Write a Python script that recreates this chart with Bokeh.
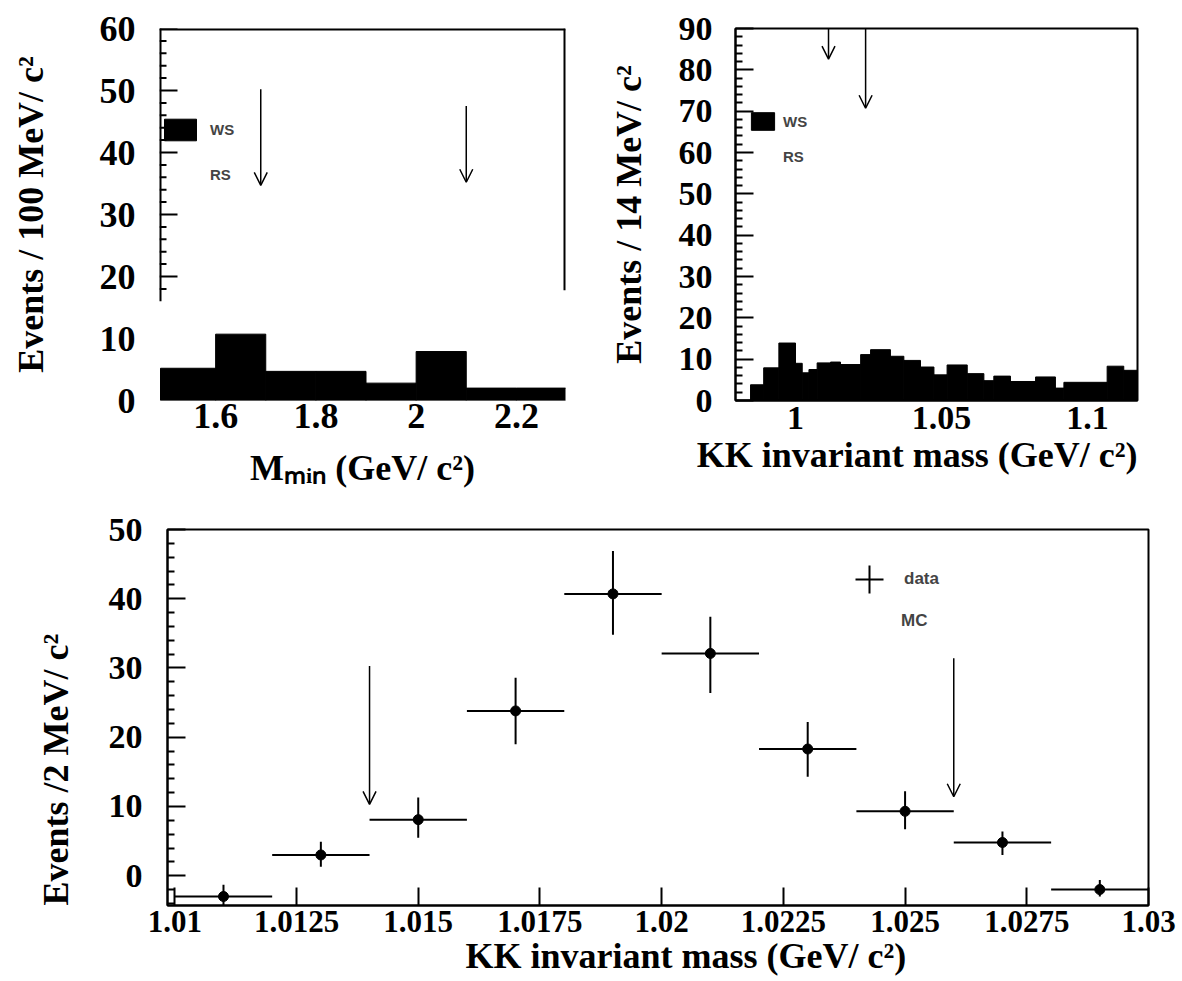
import math
from bokeh.plotting import figure
from bokeh.models import (Range1d, FixedTicker, Arrow, OpenHead, Title,
                          CustomJSTickFormatter, Legend, LegendItem)
from bokeh.layouts import column, row
from bokeh.embed import file_html
from bokeh.resources import INLINE

# ---------------- data ----------------
# top-left: M_min histogram (WS)
mmin_edges = [1.49, 1.6, 1.7, 1.8, 1.9, 2.0, 2.1, 2.2, 2.305]
mmin_ws = [5.2, 10.7, 4.7, 4.7, 2.8, 7.9, 2.0, 2.0]
mmin_ticks = [1.6, 1.8, 2.0, 2.2]
mmin_tick_labels = ["1.6", "1.8", "2", "2.2"]
mmin_yticks = [0, 10, 20, 30, 40, 50, 60]
mmin_cut_x = [1.69, 2.1]
mmin_cut_top = [50.2, 47.5]
mmin_cut_tip = [34.7, 35.2]

# top-right: KK invariant mass histogram (WS)
kk_edges = [0.9846, 0.9891, 0.9943, 1.0, 1.0023, 1.0046, 1.0074, 1.012, 1.0154,
            1.0223, 1.0257, 1.0325, 1.0371, 1.0428, 1.0474, 1.0519, 1.0588,
            1.0645, 1.0679, 1.0736, 1.0822, 1.089, 1.0919, 1.1067, 1.1124, 1.1176]
kk_ws = [3.8, 7.9, 13.9, 9.0, 6.7, 7.5, 9.1, 9.3, 8.7, 11.1, 12.3, 10.7, 9.7,
         8.1, 6.2, 8.6, 6.5, 4.8, 5.9, 4.6, 5.7, 3.0, 4.4, 8.3, 7.3]
kk_ticks = [1.0, 1.05, 1.1]
kk_tick_labels = ["1", "1.05", "1.1"]
kk_yticks = [0, 10, 20, 30, 40, 50, 60, 70, 80, 90]
kk_cut_x = [1.0113, 1.024]
kk_cut_top = [90.0, 90.0]
kk_cut_tip = [82.6, 70.7]

# bottom: KK invariant mass, data points with errors
fine_x = [1.011, 1.013, 1.015, 1.017, 1.019, 1.021, 1.023, 1.025, 1.027, 1.029]
fine_n = [-3.0, 3.0, 8.1, 23.8, 40.7, 32.1, 18.3, 9.3, 4.8, -2.0]
fine_err_up = [1.7, 1.9, 3.2, 4.8, 6.2, 5.3, 3.9, 2.9, 1.6, 1.4]
fine_err_dn = [1.6, 1.7, 2.6, 4.8, 5.9, 5.7, 4.0, 2.6, 1.8, 1.0]
fine_halfbin = 0.001
fine_ticks = [1.01, 1.0125, 1.015, 1.0175, 1.02, 1.0225, 1.025, 1.0275, 1.03]
fine_tick_labels = ["1.01", "1.0125", "1.015", "1.0175", "1.02", "1.0225",
                    "1.025", "1.0275", "1.03"]
fine_yticks = [0, 10, 20, 30, 40, 50]
fine_cut_x = [1.014, 1.026]
fine_cut_top = [30.3, 31.4]
fine_cut_tip = [10.3, 11.4]

SERIF = "Liberation Serif"
SANS = "Liberation Sans"


def fixed_labels(ticks, labels):
    return CustomJSTickFormatter(args=dict(tks=ticks, lbls=labels), code="""
        for (let i = 0; i < tks.length; i++) {
            if (Math.abs(tks[i] - tick) < 1e-7) { return lbls[i]; }
        }
        return "";
    """)


def make_fig(w, h, xr, yr, bl, br, bt, bb):
    p = figure(width=w, height=h, x_range=Range1d(*xr), y_range=Range1d(*yr),
               output_backend="svg", toolbar_location=None, title=None,
               min_border_left=bl, min_border_right=br,
               min_border_top=bt, min_border_bottom=bb)
    p.grid.visible = False
    p.background_fill_color = "white"
    p.border_fill_color = "white"
    p.outline_line_color = None
    for ax in (p.xaxis[0], p.yaxis[0]):
        ax.major_label_text_font = SERIF
        ax.major_label_text_font_style = "bold"
        ax.major_label_text_color = "black"
        ax.axis_label_text_font = SERIF
        ax.axis_label_text_font_style = "bold"
        ax.axis_label_text_font_size = "36px"
        ax.axis_label_text_color = "black"
        ax.axis_line_color = "black"
        ax.axis_line_width = 2
        ax.major_tick_line_color = "black"
        ax.minor_tick_line_color = "black"
        ax.major_tick_line_width = 2
        ax.minor_tick_line_width = 2
        ax.major_tick_out = 0
        ax.minor_tick_out = 0
    return p


def side_title(p, side, text, standoff, align="left", offset=0):
    p.add_layout(Title(text=text, align=align, offset=offset, standoff=standoff,
                       vertical_align="bottom", text_font=SERIF,
                       text_font_style="bold", text_font_size="36px",
                       text_color="black"), side)


def cut_arrows(p, xs, tops, tips):
    for x, t, b in zip(xs, tops, tips):
        p.add_layout(Arrow(x_start=x, y_start=t, x_end=x, y_end=b,
                           line_color="black", line_width=1.5,
                           end=OpenHead(size=13, line_color="black", line_width=1.5)))


def key_legend(p, items, loc, gw, gh, standoff, size):
    leg = Legend(items=items, location=loc, orientation="vertical",
                 glyph_width=gw, glyph_height=gh, label_standoff=standoff,
                 padding=0, margin=0, spacing=0, border_line_color=None,
                 background_fill_alpha=0, label_text_font=SANS,
                 label_text_font_style="bold", label_text_font_size=size,
                 label_height=gh)
    p.add_layout(leg, "center")


TOP_H = 505

# ---------------- top-left ----------------
p1 = make_fig(590, TOP_H, (1.488, 2.298), (0, 60), 159, 25, 28, TOP_H - 409)
ws1 = p1.quad(left=mmin_edges[:-1], right=mmin_edges[1:], bottom=0, top=mmin_ws,
              fill_color="black", line_color="black")
rs1 = p1.quad(left=[], right=[], bottom=[], top=[], fill_alpha=0, line_alpha=0)

p1.xaxis.ticker = FixedTicker(ticks=mmin_ticks, minor_ticks=[])
p1.xaxis.formatter = fixed_labels(mmin_ticks, mmin_tick_labels)
p1.xaxis.axis_line_color = None
p1.xaxis.major_tick_in = 0
p1.xaxis.minor_tick_in = 0
p1.xaxis.major_label_text_font_size = "36px"
p1.xaxis.major_label_standoff = 3
p1.xaxis.axis_label = "M\u2098\u1d62\u2099 (GeV/ c\u00b2)"
p1.xaxis.axis_label_standoff = 17

p1.yaxis.ticker = FixedTicker(ticks=mmin_yticks, minor_ticks=[])
p1.yaxis.axis_line_color = None
p1.yaxis.major_tick_in = 0
p1.yaxis.minor_tick_in = 0
p1.yaxis.major_label_text_font_size = "36px"
p1.yaxis.major_label_standoff = 24
p1.yaxis.axis_label = "Events / 100 MeV/ c\u00b2"
p1.yaxis.axis_label_standoff = 46

# partial frame and inward ticks on the visible part of the axis (16..60)
x0, x1 = 1.488, 2.298
dxpx = (x1 - x0) / 406.0
p1.segment(x0=[x0, x0, x1], y0=[60, 16, 17.8], x1=[x1, x0, x1], y1=[60, 60, 60],
           line_color="black", line_width=4)
maj = [v for v in mmin_yticks if v >= 16]
mnr = [v for v in range(18, 60, 2) if v % 10 != 0]
p1.segment(x0=[x0] * len(maj), y0=maj, x1=[x0 + 18 * dxpx] * len(maj), y1=maj,
           line_color="black", line_width=2)
p1.segment(x0=[x0] * len(mnr), y0=mnr, x1=[x0 + 7 * dxpx] * len(mnr), y1=mnr,
           line_color="black", line_width=2)

cut_arrows(p1, mmin_cut_x, mmin_cut_top, mmin_cut_tip)

leg1 = Legend(items=[LegendItem(label="WS", renderers=[ws1]),
                     LegendItem(label="RS", renderers=[rs1])],
              location=(1, 212), orientation="vertical",
              glyph_width=40, glyph_height=27, label_standoff=10, spacing=18,
              padding=0, margin=0, border_line_color=None,
              background_fill_alpha=0, label_text_font=SANS,
              label_text_font_style="bold", label_text_font_size="15px",
              label_height=27)
p1.add_layout(leg1, "center")

# ---------------- top-right ----------------
p2 = make_fig(592, TOP_H, (0.97945, 1.1171), (0, 90), 145, 45, 22, TOP_H - 400)
p2.outline_line_color = "black"
p2.outline_line_width = 2
ws2 = p2.quad(left=kk_edges[:-1], right=kk_edges[1:], bottom=0, top=kk_ws,
              fill_color="black", line_color="black")
rs2 = p2.quad(left=[], right=[], bottom=[], top=[], fill_alpha=0, line_alpha=0)

p2.xaxis.ticker = FixedTicker(ticks=kk_ticks, minor_ticks=[])
p2.xaxis.formatter = fixed_labels(kk_ticks, kk_tick_labels)
p2.xaxis.major_tick_in = 0
p2.xaxis.minor_tick_in = 0
p2.xaxis.major_label_text_font_size = "34px"
p2.xaxis.major_label_standoff = 6

p2.yaxis.ticker = FixedTicker(ticks=kk_yticks,
                              minor_ticks=[v for v in range(0, 91, 2) if v % 10 != 0])
p2.yaxis.major_tick_in = 18
p2.yaxis.minor_tick_in = 7
p2.yaxis.major_label_text_font_size = "34px"
p2.yaxis.major_label_standoff = 23
p2.yaxis.axis_label = "Events / 14 MeV/ c\u00b2"
p2.yaxis.axis_label_standoff = 27

cut_arrows(p2, kk_cut_x, kk_cut_top, kk_cut_tip)

leg2 = Legend(items=[LegendItem(label="WS", renderers=[ws2]),
                     LegendItem(label="RS", renderers=[rs2])],
              location=(13, 233), orientation="vertical",
              glyph_width=29, glyph_height=22, label_standoff=6, spacing=13,
              padding=0, margin=0, border_line_color=None,
              background_fill_alpha=0, label_text_font=SANS,
              label_text_font_style="bold", label_text_font_size="15px",
              label_height=22)
p2.add_layout(leg2, "center")

side_title(p2, "below", "KK invariant mass (GeV/ c\u00b2)", standoff=3,
           align="right", offset=0)

# ---------------- bottom ----------------
p3 = make_fig(1182, 981 - TOP_H, (1.00985, 1.0300), (-4.3, 50), 167, 34, 529 - TOP_H, 76)
p3.outline_line_color = "black"
p3.outline_line_width = 2

lo = [n - d for n, d in zip(fine_n, fine_err_dn)]
hi = [n + u for n, u in zip(fine_n, fine_err_up)]
p3.segment(x0=fine_x, y0=lo, x1=fine_x, y1=hi, line_color="black", line_width=2)
p3.segment(x0=[x - fine_halfbin for x in fine_x], y0=fine_n,
           x1=[x + fine_halfbin for x in fine_x], y1=fine_n,
           line_color="black", line_width=2)
p3.scatter(fine_x, fine_n, size=10, marker="circle", color="black")
# legend keys only: one point placed below the visible range
data_key = p3.scatter(x=fine_x[:1], y=[-1000], marker="cross", size=30, line_width=2,
                      line_color="black")
mc_key = p3.scatter(x=fine_x[:1], y=[-1000], marker="circle", size=1,
                    fill_alpha=0, line_alpha=0)

p3.xaxis.ticker = FixedTicker(ticks=fine_ticks, minor_ticks=[])
p3.xaxis.formatter = fixed_labels(fine_ticks, fine_tick_labels)
p3.xaxis.major_tick_in = 18
p3.xaxis.minor_tick_in = 0
p3.xaxis.major_label_text_font_size = "31px"
p3.xaxis.major_label_standoff = 5

p3.yaxis.ticker = FixedTicker(ticks=fine_yticks,
                              minor_ticks=[v for v in range(-4, 51, 2) if v % 10 != 0])
p3.yaxis.major_tick_in = 18
p3.yaxis.minor_tick_in = 7
p3.yaxis.major_label_text_font_size = "34px"
p3.yaxis.major_label_standoff = 25

cut_arrows(p3, fine_cut_x, fine_cut_top, fine_cut_tip)

key_legend(p3, [LegendItem(label="data", renderers=[data_key])],
           (667, 286), 70, 80, 0, "17px")
key_legend(p3, [LegendItem(label="MC", renderers=[mc_key])],
           (714, 274), 20, 20, 0, "17px")

side_title(p3, "left", "Events /2 MeV/ c\u00b2", standoff=60, align="left", offset=0)
side_title(p3, "below", "KK invariant mass (GeV/ c\u00b2)", standoff=-2,
           align="left", offset=298)

layout = column(row(p1, p2), p3)
open("out.html", "w").write(file_html(layout, INLINE))
